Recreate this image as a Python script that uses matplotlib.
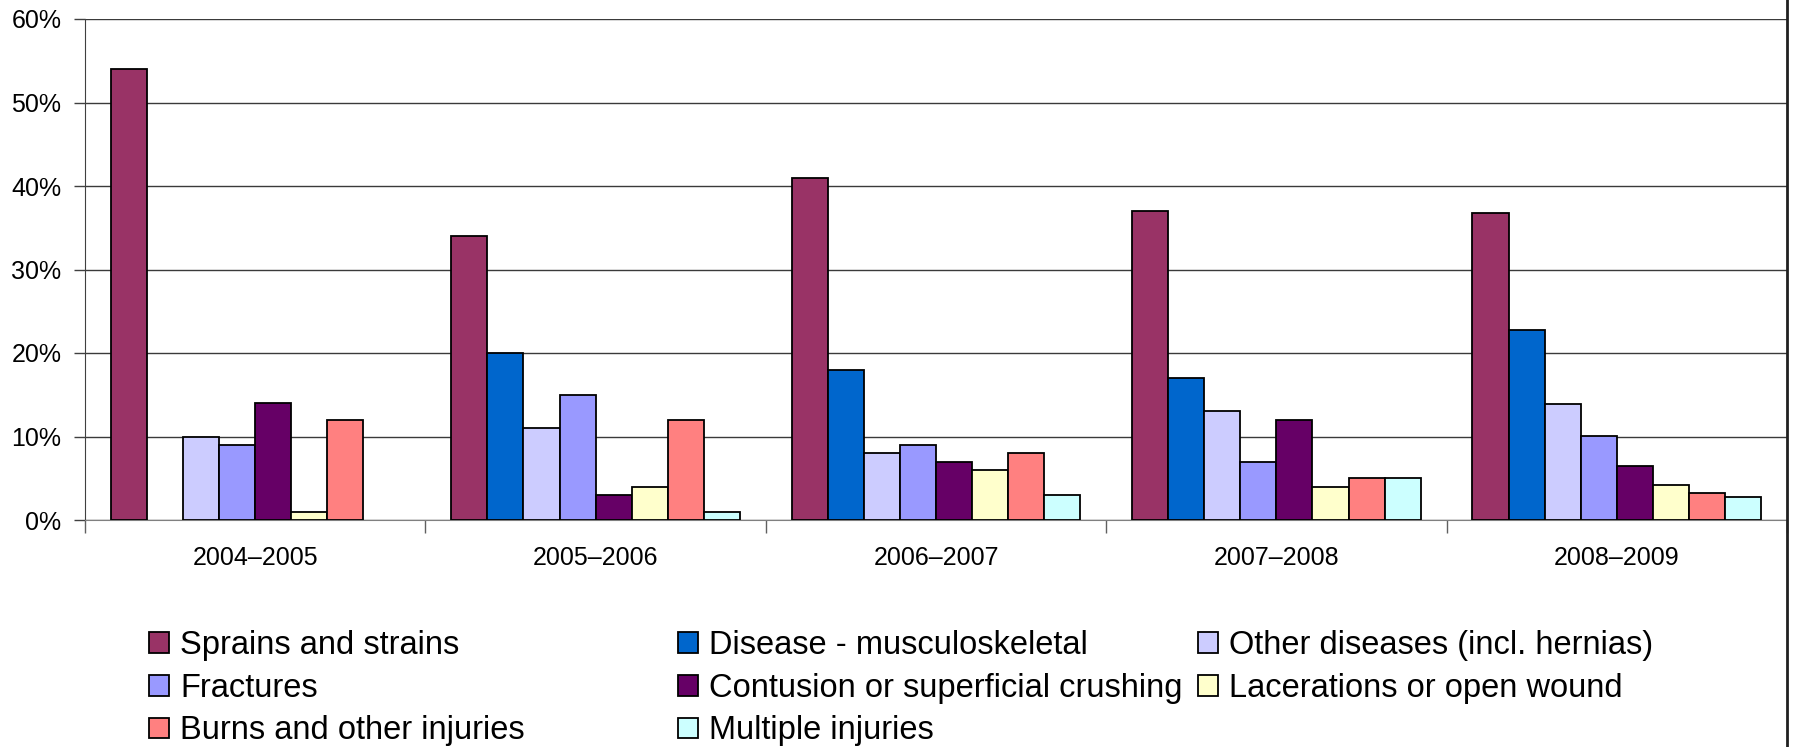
import numpy as np
import matplotlib
matplotlib.use("Agg")
import matplotlib.pyplot as plt
from matplotlib.lines import Line2D

plt.rcParams['font.family'] = ['Liberation Sans', 'DejaVu Sans']

years = ['2004–2005', '2005–2006', '2006–2007', '2007–2008', '2008–2009']

names = ['Sprains and strains', 'Disease - musculoskeletal', 'Other diseases (incl. hernias)',
         'Fractures', 'Contusion or superficial crushing', 'Lacerations or open wound',
         'Burns and other injuries', 'Multiple injuries']
colors = ['#993366', '#0066CC', '#CCCCFF', '#9999FF', '#660066', '#FFFFCC', '#FF8080', '#CCFFFF']

# percent per year, one list per cause
sprains = [54, 34, 41, 37, 36.8]
disease_msk = [np.nan, 20, 18, 17, 22.8]
other_dis = [10, 11, 8, 13, 13.9]
fractures = [9, 15, 9, 7, 10.1]
contusion = [14, 3, 7, 12, 6.5]
lacerations = [1, 4, 6, 4, 4.2]
burns = [12, 12, 8, 5, 3.2]
multiple = [np.nan, 1, 3, 5, 2.7]

series = [sprains, disease_msk, other_dis, fractures, contusion, lacerations, burns, multiple]

W, H = 1794, 747
fig = plt.figure(figsize=(W / 100, H / 100), dpi=100)
ax = fig.add_axes([85 / W, 1 - 520 / H, (1787 - 85) / W, (520 - 19) / H])

x = np.arange(len(years))
w = 0.106
bars = []
for i, (vals, c, n) in enumerate(zip(series, colors, names)):
    b = ax.bar(x + (i - 3.5) * w, vals, w, color=c, edgecolor='black', linewidth=1.3,
               label=n, zorder=3)
    bars.append(b)

ax.set_xlim(-0.5, len(years) - 0.5)
ax.set_ylim(0, 60)
ax.set_yticks(np.arange(0, 61, 10))
ax.set_yticklabels([f'{v}%' for v in range(0, 61, 10)])
ax.grid(axis='y', color='#3a3a3a', linewidth=1, zorder=0)
ax.set_axisbelow(True)

ax.set_xticks(np.arange(-0.5, len(years), 1))
ax.set_xticklabels([])
ax.set_xticks(x, minor=True)
ax.set_xticklabels(years, minor=True)
ax.tick_params(axis='x', which='major', length=9, width=1, color='#606060')
ax.tick_params(axis='x', which='minor', length=0, pad=19, labelsize=18)
ax.tick_params(axis='y', length=8, width=1, color='#404040', pad=9, labelsize=18)

for s in ['top', 'right']:
    ax.spines[s].set_visible(False)
ax.spines['left'].set_color('#404040')
ax.spines['bottom'].set_color('#808080')

fig.add_artist(Line2D([1787 / W, 1787 / W], [0, 1], color='#202020', linewidth=2))

# legend: three equal-width columns, filled row by row
cols_x = [149, 678, 1198]
for c in range(3):
    idx = list(range(c, len(names), 3))
    fig.legend([bars[k] for k in idx], [names[k] for k in idx],
               loc='upper left', bbox_to_anchor=(cols_x[c] / W, 1 - 630 / H),
               frameon=False, fontsize=23.5, borderpad=0, borderaxespad=0,
               handlelength=0.61, handleheight=0.61, handletextpad=0.34,
               labelspacing=0.36)

fig.savefig('out.png', dpi=100)
